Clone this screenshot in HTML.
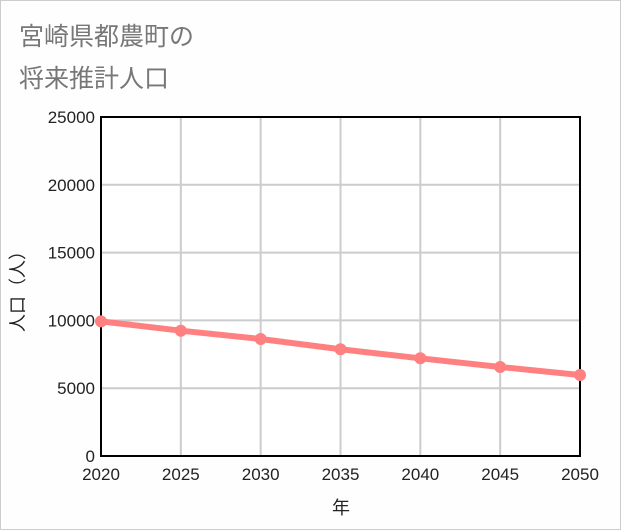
<!DOCTYPE html>
<html><head><meta charset="utf-8"><style>
body{margin:0;background:#fff;}
#wrap{position:relative;width:619px;height:528px;border:1px solid #ccc;background:#fdfefd;font-family:"Liberation Sans","Noto Sans CJK JP",sans-serif;}
.title{position:absolute;left:18px;font-size:25px;color:#777;}
</style></head><body>
<div id="wrap">
<div class="title" style="top:16px">宮崎県都農町の</div>
<div class="title" style="top:58px">将来推計人口</div>
<svg id="chart" width="621" height="530" style="position:absolute;left:-1px;top:-1px"></svg>
</div>
<script>
const years=[2020,2025,2030,2035,2040,2045,2050];
const population=[9930,9240,8628,7870,7205,6563,5973];
const yTicks=[0,5000,10000,15000,20000,25000];
const NS="http://www.w3.org/2000/svg";
const svg=document.getElementById('chart');
const L=101,R=580,T=117,B=456;
const x=v=>L+(v-2020)/30*(R-L);
const y=v=>B-v/25000*(B-T);
function mk(tag,attrs){const e=document.createElementNS(NS,tag);for(const k in attrs)e.setAttribute(k,attrs[k]);svg.appendChild(e);return e;}
const bg=mk('rect',{x:L,y:T,width:R-L,height:B-T,fill:'#fff'});


years.forEach(yr=>{const g=mk('line',{x1:x(yr),x2:x(yr),y1:T,y2:B,stroke:'#ccc','stroke-width':2});


const t=mk('text',{x:x(yr),y:480,'text-anchor':'middle','font-size':17,fill:'#222'});t.textContent=yr;

});
yTicks.forEach(v=>{const g=mk('line',{x1:L,x2:R,y1:y(v),y2:y(v),stroke:'#ccc','stroke-width':2});


const t=mk('text',{x:95,y:y(v)+6,'text-anchor':'end','font-size':17,fill:'#222'});t.textContent=v;

});
const fr=mk('rect',{x:L,y:T,width:R-L,height:B-T,fill:'none',stroke:'#000','stroke-width':2});


const pl=mk('polyline',{points:years.map((yr,i)=>x(yr)+','+y(population[i])).join(' '),fill:'none',stroke:'#ff8080','stroke-width':6});


years.forEach((yr,i)=>{const c=mk('circle',{cx:x(yr),cy:y(population[i]),r:6,fill:'#ff8080'});

});
const xt=mk('text',{x:341,y:514,'text-anchor':'middle','font-size':18,fill:'#222'});xt.textContent='年';


const yt=mk('text',{x:0,y:0,'text-anchor':'middle','font-size':18,fill:'#222',transform:'translate(24,287) rotate(-90)'});yt.textContent='人口（人）';


</script>
</body></html>
